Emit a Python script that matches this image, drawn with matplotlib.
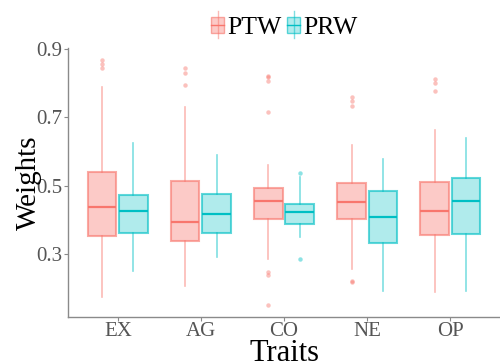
import matplotlib
matplotlib.use("Agg")
import matplotlib.pyplot as plt
from matplotlib.legend_handler import HandlerBase
from matplotlib.lines import Line2D
from matplotlib.patches import Rectangle

plt.rcParams['font.family'] = ['Liberation Serif', 'DejaVu Serif']

traits = ['EX', 'AG', 'CO', 'NE', 'OP']
groups = ['PTW', 'PRW']

# five-number summaries: lower whisker, Q1, median, Q3, upper whisker
ptw_stats = [
    [0.175, 0.353, 0.439, 0.540, 0.788],
    [0.206, 0.337, 0.394, 0.515, 0.730],
    [0.286, 0.402, 0.455, 0.493, 0.560],
    [0.257, 0.402, 0.451, 0.507, 0.618],
    [0.189, 0.356, 0.425, 0.512, 0.663],
]
prw_stats = [
    [0.249, 0.361, 0.427, 0.472, 0.626],
    [0.292, 0.361, 0.416, 0.476, 0.589],
    [0.349, 0.389, 0.423, 0.446, 0.525],
    [0.191, 0.333, 0.409, 0.484, 0.579],
    [0.191, 0.359, 0.456, 0.523, 0.640],
]
ptw_fliers = [
    [0.868, 0.858, 0.846],
    [0.844, 0.831, 0.795],
    [0.821, 0.817, 0.807, 0.717, 0.247, 0.238, 0.150],
    [0.761, 0.748, 0.733, 0.222, 0.218],
    [0.812, 0.802, 0.776],
]
prw_fliers = [
    [],
    [],
    [0.537, 0.286],
    [],
    [],
]

red = '#F8766D'
cyan = '#00BFC4'
fill_alpha = {red: 0.38, cyan: 0.31}


def to_bxp(stats, fliers):
    out = []
    for s, f in zip(stats, fliers):
        out.append(dict(whislo=s[0], q1=s[1], med=s[2], q3=s[3], whishi=s[4], fliers=f))
    return out


fig = plt.figure(figsize=(5, 3.62), dpi=100)
ax = fig.add_axes([0.136, 0.125, 0.864, 0.742])

xs = list(range(len(traits)))
off = 0.1875
for stats, fliers, col, sign in [(ptw_stats, ptw_fliers, red, -1), (prw_stats, prw_fliers, cyan, 1)]:
    ax.bxp(to_bxp(stats, fliers), positions=[x + sign * off for x in xs], widths=0.34,
           patch_artist=True, showcaps=False,
           boxprops=dict(facecolor=matplotlib.colors.to_rgba(col, fill_alpha[col]),
                         edgecolor=matplotlib.colors.to_rgba(col, 0.62), linewidth=1.5),
           whiskerprops=dict(color=matplotlib.colors.to_rgba(col, 0.5), linewidth=1.2),
           medianprops=dict(color=col, linewidth=1.6),
           flierprops=dict(marker='o', markersize=3.2, markerfacecolor=matplotlib.colors.to_rgba(col, 0.45),
                           markeredgecolor='none', linestyle='none'))

ax.set_xlim(-0.6, 4.6)
ax.set_ylim(0.116, 0.903)
ax.set_xticks(xs)
ax.set_xticklabels(traits)
ax.set_yticks([0.3, 0.5, 0.7, 0.9])
ax.set_yticklabels(['0.3', '0.5', '0.7', '0.9'])
for side in ['top', 'right']:
    ax.spines[side].set_visible(False)
for side in ['left', 'bottom']:
    ax.spines[side].set_color('#8a8a8a')
    ax.spines[side].set_linewidth(1.0)
ax.tick_params(colors='#8a8a8a', labelcolor='#555555', labelsize=15, length=3, width=0.8, pad=1)
ax.set_xlabel('Traits', fontsize=22, labelpad=-2)
ax.set_ylabel('Weights', fontsize=21, labelpad=-4)


class BoxHandler(HandlerBase):
    def create_artists(self, legend, orig_handle, x0, y0, width, height, fontsize, trans):
        col = orig_handle.get_color()
        cx = x0 + width / 2
        bw = width * 0.9
        bh = height * 0.9
        box = Rectangle((cx - bw / 2, y0 + height / 2 - bh / 2), bw, bh,
                        facecolor=matplotlib.colors.to_rgba(col, fill_alpha[col]),
                        edgecolor=matplotlib.colors.to_rgba(col, 0.62), linewidth=1.0, transform=trans)
        wh = Line2D([cx, cx], [y0 - height * 0.25, y0 + height * 1.25],
                    color=matplotlib.colors.to_rgba(col, 0.5), linewidth=1.0, transform=trans)
        med = Line2D([cx - bw / 2, cx + bw / 2], [y0 + height / 2] * 2, color=col, linewidth=1.0, transform=trans)
        return [wh, box, med]


handles = [Line2D([], [], color=red), Line2D([], [], color=cyan)]
fig.legend(handles, groups, handler_map={Line2D: BoxHandler()}, loc='center', bbox_to_anchor=(0.568, 0.925),
           ncol=2, frameon=False, fontsize=18.5, handlelength=0.55, handleheight=0.7,
           handletextpad=0.1, columnspacing=0.2, borderpad=0)

fig.savefig('out.png', dpi=100)
